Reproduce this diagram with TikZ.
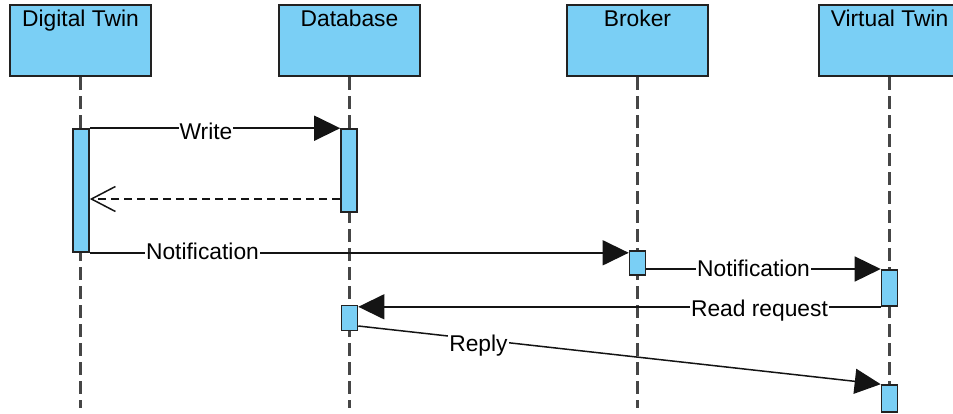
\documentclass[tikz,border=0pt]{standalone}
\usepackage{fontspec}
\setmainfont{Liberation Sans}
\usetikzlibrary{arrows.meta,calc}
\definecolor{boxblue}{RGB}{122,207,245}
\definecolor{edge}{RGB}{34,34,34}
\definecolor{life}{RGB}{70,70,70}
\definecolor{wire}{RGB}{20,20,20}
\begin{document}
\begin{tikzpicture}[x=1pt,y=-1pt,
  headbox/.style={draw=edge,line width=2pt,fill=boxblue,minimum width=141pt,minimum height=71pt,inner sep=0pt},
  headtext/.style={anchor=base,inner sep=0pt,font=\fontsize{22.8}{27}\selectfont},
  act/.style={draw=edge,line width=1.6pt,fill=boxblue,minimum width=16pt,inner sep=0pt},
  lifeline/.style={draw=life,line width=2.2pt,dash pattern=on 13pt off 6pt},
  msg/.style={draw=wire,line width=1.5pt,-{Triangle[length=26pt,width=25pt]}},
  answer/.style={draw=wire,line width=1.5pt,dash pattern=on 8pt off 5pt,-{Straight Barb[length=24pt,width=25pt]}},
  msglabel/.style={anchor=base,fill=white,inner xsep=1pt,inner ysep=2pt,font=\fontsize{22.8}{27}\selectfont}]
\useasboundingbox (0,0) rectangle (953,413);

% participant heads
\node[headbox] (dt) at (80.5,40.5) {};
\node[headbox] (db) at (349.5,40.5) {};
\node[headbox] (br) at (637.5,40.5) {};
\node[headbox] (vt) at (889.5,40.5) {};
\node[headtext] (dtname) at ([yshift=-22pt]dt.north) {Digital Twin};
\node[headtext] (dbname) at ([yshift=-22pt]db.north) {Database};
\node[headtext] (brname) at ([yshift=-22pt]br.north) {Broker};
\node[headtext] (vtname) at ([yshift=-22pt]vt.north) {Virtual Twin};

% lifelines
\coordinate (dtend) at (80.5,408);
\coordinate (dbend) at (349.5,408);
\coordinate (brend) at (637.5,408);
\coordinate (vtend) at (889.5,408);
\draw[lifeline] (dt.south) -- (dtend);
\draw[lifeline] (db.south) -- (dbend);
\draw[lifeline] (br.south) -- (brend);
\draw[lifeline] (vt.south) -- (vtend);

% activation bars
\node[act,minimum height=123pt] (dta) at (81,190.5) {};
\node[act,minimum height=83pt] (dba1) at (349,170.5) {};
\node[act,minimum height=24pt] (bra) at (637.5,263) {};
\node[act,minimum height=36pt] (vta1) at (889.5,288) {};
\node[act,minimum height=25pt] (dba2) at (349.5,318) {};
\node[act,minimum height=27pt] (vta2) at (889.5,398.5) {};

% message rows
\coordinate (rowback) at (0,199);
\coordinate (rownote) at (0,269);
\coordinate (rowreply) at (0,326);

% messages
\draw[msg] (dta.north east) -- (dba1.north west);
\draw[answer] (dba1.west |- rowback) -- (dta.east |- rowback);
\draw[msg] (dta.south east) -- (dta.south east -| bra.west);
\draw[msg] (bra.east |- rownote) -- (vta1.west |- rownote);
\draw[msg] (vta1.south west) -- (vta1.south west -| dba2.east);
\draw[msg] (dba2.east |- rowreply) -- (vta2.north west);

% message labels
\node[msglabel] (lwrite) at (206,139) {Write};
\node[msglabel] (lnote1) at (202.5,259) {Notification};
\node[msglabel] (lnote2) at (753.5,276) {Notification};
\node[msglabel] (lread) at (759.5,316) {Read request};
\node[msglabel] (lreply) at (478.5,351) {Reply};
\end{tikzpicture}
\end{document}
